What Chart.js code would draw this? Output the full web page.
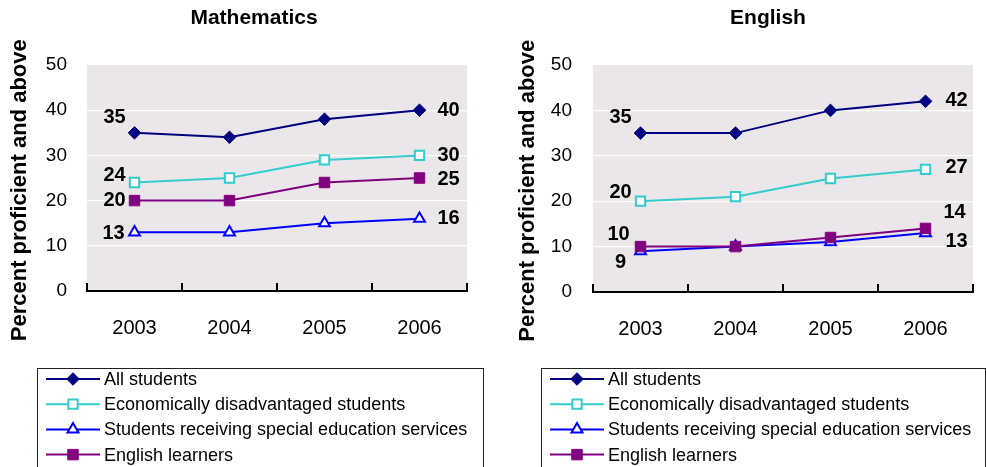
<!DOCTYPE html>
<html><head><meta charset="utf-8">
<script src="https://cdn.jsdelivr.net/npm/chart.js@4.4.0/dist/chart.umd.min.js"></script>
<style>
html,body{margin:0;padding:0;background:#fff;overflow:hidden;}
#wrap{position:relative;width:986px;height:467px;}
.c{position:absolute;top:0;width:493px;height:467px;}
#c1{left:0;} #c2{left:493px;}
</style></head><body>
<div id="wrap"><div class="c" id="c1"><canvas id="math"></canvas></div><div class="c" id="c2"><canvas id="eng"></canvas></div></div>
<script>
// ---- data ----
const years = ['2003', '2004', '2005', '2006'];
const seriesNames = ['All students', 'Economically disadvantaged students', 'Students receiving special education services', 'English learners'];
const mathAll = [35, 34, 38, 40];
const mathEcon = [24, 25, 29, 30];
const mathSped = [13, 13, 15, 16];
const mathEL = [20, 20, 24, 25];
const engAll = [35, 35, 40, 42];
const engEcon = [20, 21, 25, 27];
const engSped = [9, 10, 11, 13];
const engEL = [10, 10, 12, 14];
const yTicks = [0, 10, 20, 30, 40, 50];
const panelTitles = ['Mathematics', 'English'];
const yAxisTitle = 'Percent proficient and above';

// ---- style ----
const FONT = "'Liberation Sans', Arial, sans-serif";
const PLOT_BG = '#eae6e9';
const seriesStyles = [
  {color: '#000080', pointStyle: 'rectRot', pointRadius: 6.3, fill: '#000080', pbw: 1},
  {color: '#33cccc', pointStyle: 'rect', pointRadius: 6.6, fill: '#ffffff', pbw: 2},
  {color: '#0000ff', pointStyle: 'triangle', pointRadius: 6.3, fill: '#ffffff', pbw: 2},
  {color: '#800080', pointStyle: 'rect', pointRadius: 7.4, fill: '#800080', pbw: 1}
];
const drawOrder = [0, 0, 1, 0];
// label offsets (px) for first/last point labels, per series
const mathFirstOff = [[-20, -15], [-20, -7], [-21, 1], [-20, 0]];
const mathLastOff = [[29, 0], [29, 0], [29, 0], [29, 1]];
const engFirstOff = [[-20, -16], [-20, -9], [-20, 11], [-22, -12]];
const engLastOff = [[31, -1], [31, -2], [31, 9], [29, -16]];

const bgPlugin = {
  id: 'plotBg',
  beforeDraw(chart) {
    const a = chart.chartArea, ctx = chart.ctx;
    ctx.save(); ctx.fillStyle = PLOT_BG;
    ctx.fillRect(a.left, a.top, a.right - a.left, a.bottom - a.top);
    ctx.restore();
  }
};

const tickMarkPlugin = {
  id: 'catTicks',
  afterDraw(chart) {
    const a = chart.chartArea, ctx = chart.ctx, n = chart.data.labels.length;
    const w = (a.right - a.left) / n;
    ctx.save(); ctx.strokeStyle = '#000'; ctx.lineWidth = 2;
    for (let i = 0; i <= n; i++) {
      const x = Math.round(a.left + i * w);
      ctx.beginPath(); ctx.moveTo(x, a.bottom - 8); ctx.lineTo(x, a.bottom + 1); ctx.stroke();
    }
    ctx.restore();
  }
};

const panelTitlePlugin = {
  id: 'panelTitle',
  afterDraw(chart, args, opts) {
    const ctx = chart.ctx;
    ctx.save(); ctx.fillStyle = '#000'; ctx.font = 'bold 21px ' + FONT;
    ctx.textAlign = 'center'; ctx.textBaseline = 'middle';
    ctx.fillText(opts.text, opts.x, opts.y);
    ctx.restore();
  }
};

const endLabelPlugin = {
  id: 'endLabels',
  afterDatasetsDraw(chart, args, opts) {
    const ctx = chart.ctx;
    ctx.save(); ctx.fillStyle = '#000'; ctx.font = 'bold 20px ' + FONT;
    ctx.textAlign = 'center'; ctx.textBaseline = 'middle';
    chart.data.datasets.forEach((ds, i) => {
      const meta = chart.getDatasetMeta(i);
      const n = ds.data.length;
      const p0 = meta.data[0], p1 = meta.data[n - 1];
      ctx.fillText(String(ds.data[0]), p0.x + opts.first[i][0], p0.y + opts.first[i][1]);
      ctx.fillText(String(ds.data[n - 1]), p1.x + opts.last[i][0], p1.y + opts.last[i][1]);
    });
    ctx.restore();
  }
};

const legendPlugin = {
  id: 'boxLegend',
  afterDraw(chart, args, opts) {
    const ctx = chart.ctx;
    ctx.save();
    ctx.strokeStyle = '#222'; ctx.lineWidth = 1;
    ctx.strokeRect(opts.left + 0.5, opts.top + 0.5, opts.width, 120);
    ctx.font = '18px ' + FONT; ctx.textBaseline = 'middle'; ctx.textAlign = 'left';
    chart.data.datasets.forEach((ds, i) => {
      const y = opts.top + 11 + i * 25.2;
      const x0 = opts.left + 9, x1 = opts.left + 63, xm = (x0 + x1) / 2;
      ctx.strokeStyle = ds.borderColor; ctx.lineWidth = 2;
      ctx.beginPath(); ctx.moveTo(x0, y); ctx.lineTo(x1, y); ctx.stroke();
      ctx.fillStyle = ds.pointBackgroundColor; ctx.strokeStyle = ds.pointBorderColor;
      ctx.lineWidth = ds.pointBorderWidth;
      Chart.helpers.drawPoint(ctx, {pointStyle: ds.pointStyle, radius: ds.pointRadius, borderWidth: ds.pointBorderWidth, rotation: 0}, xm, y);
      ctx.fillStyle = '#000';
      ctx.fillText(ds.label, opts.left + 67, y + 1);
    });
    ctx.restore();
  }
};

function makeDatasets(series) {
  return series.map((vals, i) => {
    const s = seriesStyles[i];
    return {
      label: seriesNames[i], data: vals,
      borderColor: s.color, backgroundColor: s.color, borderWidth: 2,
      pointStyle: s.pointStyle, pointRadius: s.pointRadius, pointHoverRadius: s.pointRadius,
      pointBackgroundColor: s.fill, pointBorderColor: s.color, pointBorderWidth: s.pbw,
      tension: 0, fill: false, order: drawOrder[i]
    };
  });
}

function makeChart(id, series, cfg) {
  return new Chart(document.getElementById(id), {
    type: 'line',
    data: {labels: years, datasets: makeDatasets(series)},
    plugins: [bgPlugin, tickMarkPlugin, panelTitlePlugin, endLabelPlugin, legendPlugin],
    options: {
      responsive: true, maintainAspectRatio: false, animation: false,
      layout: {padding: {top: 65, left: cfg.padL, right: cfg.padR, bottom: 116}},
      plugins: {
        legend: {display: false}, tooltip: {enabled: false}, title: {display: false},
        panelTitle: {text: cfg.title, x: cfg.titleX, y: 18},
        endLabels: {first: cfg.first, last: cfg.last},
        boxLegend: {left: cfg.legLeft, top: 368, width: cfg.legWidth}
      },
      scales: {
        x: {
          offset: true,
          grid: {display: true, drawOnChartArea: false, drawTicks: false, color: 'rgba(0,0,0,0)'},
          border: {display: true, color: '#000', width: 2},
          ticks: {padding: 25, color: '#000', font: {family: FONT, size: 20}},
          afterFit(s) { s.height = cfg.xH; }
        },
        y: {
          min: 0, max: 50,
          afterBuildTicks(s) { s.ticks = yTicks.map(v => ({value: v})); },
          ticks: {padding: cfg.yPad, color: '#000', font: {family: FONT, size: 19}},
          grid: {drawTicks: false, lineWidth: 1.2,
            color: c => (c.tick && (c.tick.value === 0 || c.tick.value === 50)) ? 'rgba(0,0,0,0)' : '#ffffff'},
          border: {display: false},
          title: {display: true, text: yAxisTitle + '\u00a0\u00a0\u00a0\u00a0', color: '#000',
            font: {family: FONT, size: 22, weight: 'bold'}, padding: {top: 3, bottom: 0}},
          afterFit(s) { s.width = cfg.yW; }
        }
      }
    }
  });
}

Chart.defaults.font.family = FONT;
Chart.defaults.color = '#000';

makeChart('math', [mathAll, mathEcon, mathSped, mathEL], {
  padL: 4, padR: 26, yW: 83, yPad: 20, xH: 60, title: panelTitles[0], titleX: 254,
  first: mathFirstOff, last: mathLastOff, legLeft: 37, legWidth: 446
});
makeChart('eng', [engAll, engEcon, engSped, engEL], {
  padL: 19, padR: 13, yW: 81, yPad: 21, xH: 59, title: panelTitles[1], titleX: 275,
  first: engFirstOff, last: engLastOff, legLeft: 48, legWidth: 444
});
</script>
</body></html>
